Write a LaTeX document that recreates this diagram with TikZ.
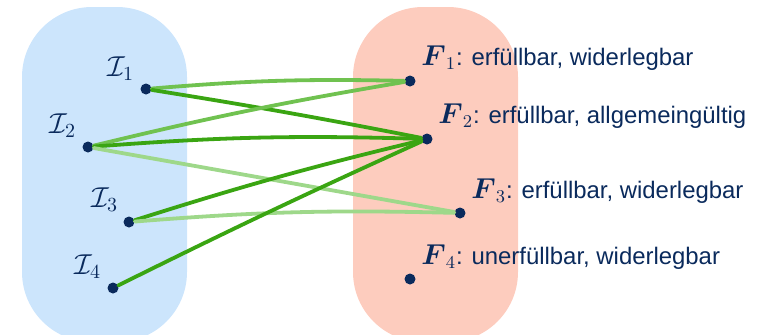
\documentclass[tikz,border=0pt]{standalone}
\usepackage{amsmath}
\usepackage{fontspec}
\setmainfont{Liberation Sans}
\usepackage{tikz}

\definecolor{setblue}{RGB}{204,229,252}
\definecolor{setred}{RGB}{253,204,190}
\definecolor{navy}{RGB}{10,42,92}
\definecolor{gdark}{RGB}{58,165,18}
\definecolor{gmid}{RGB}{112,194,80}
\definecolor{glight}{RGB}{158,216,138}

\newcommand{\fml}[1]{{\fontsize{13.5}{15}\selectfont$\boldsymbol{F}_{#1}$}}

\tikzset{
  pt/.style={circle, fill=navy, inner sep=0pt, minimum size=5.5pt},
  lbl/.style={text=navy, inner sep=0pt, anchor=base west},
  ilbl/.style={lbl, font=\fontsize{14}{16}\selectfont},
  link/.style={line width=1.9pt, line cap=round},
}

\begin{document}
\begin{tikzpicture}[x=0.5pt,y=0.5pt,yscale=-1]
    \useasboundingbox (0,0) rectangle (762,334);
    \fontsize{11.95}{15}\selectfont

    % sets
    \fill [setblue, rounded corners=35pt] (22,7) rectangle (187,342);
    \fill [setred, rounded corners=35pt] (353,7) rectangle (518,342);

    % interpretations
    \node [pt] (i1) at (146,89) {};
    \node [pt] (i2) at (88,147) {};
    \node [pt] (i3) at (129,222) {};
    \node [pt] (i4) at (113,288) {};

    % formulas
    \node [pt] (f1) at (410,81) {};
    \node [pt] (f2) at (427,139) {};
    \node [pt] (f3) at (460,213) {};
    \node [pt] (f4) at (410,279) {};

    % links
    \draw [link, gmid] (i1) to[bend right=3] (f1);
    \draw [link, gdark] (i1) to[bend right=1] (f2);
    \draw [link, gmid] (i2) to[bend right=2] (f1);
    \draw [link, gdark] (i2) to[bend right=3] (f2);
    \draw [link, glight] (i2) -- (f3);
    \draw [link, gdark] (i3) to[bend right=2] (f2);
    \draw [link, glight] (i3) to[bend right=3] (f3);
    \draw [link, gdark] (i4) to[bend right=1] (f2);

    % Text Nodes
    \node [ilbl] (li1) at (107,76) {$\mathcal{I}_1$};
    \node [ilbl] (li2) at (49,133) {$\mathcal{I}_2$};
    \node [ilbl] (li3) at (91,207) {$\mathcal{I}_3$};
    \node [ilbl] (li4) at (74,274) {$\mathcal{I}_4$};
    \node [lbl] (lf1) at (421,65) {\fml{1}: erfüllbar, widerlegbar};
    \node [lbl] (lf2) at (438,123) {\fml{2}: erfüllbar, allgemeingültig};
    \node [lbl] (lf3) at (471,198) {\fml{3}: erfüllbar, widerlegbar};
    \node [lbl] (lf4) at (421,264) {\fml{4}: unerfüllbar, widerlegbar};

\end{tikzpicture}
\end{document}
